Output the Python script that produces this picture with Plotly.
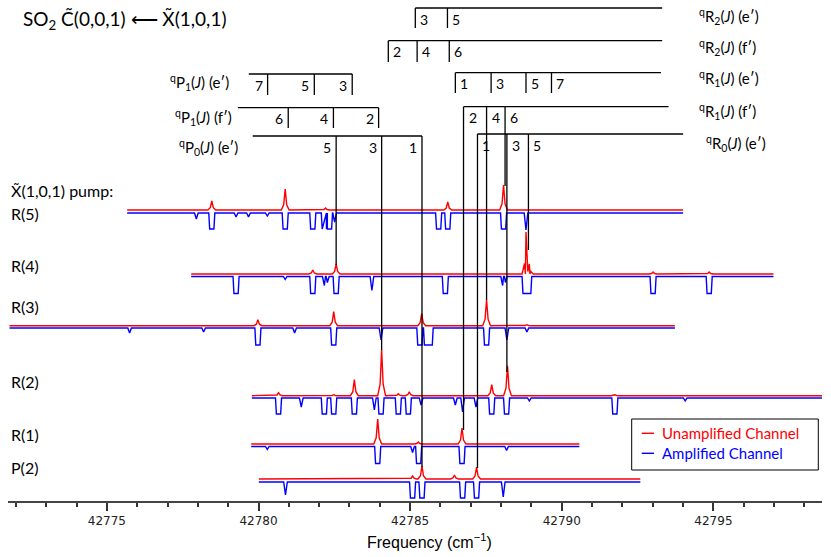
import plotly.graph_objects as go

# ---------------- spectra (centres in cm-1, sizes in px of the original) ----------------
# each pump spectrum: frequency span, red (unamplified) peaks, blue (amplified) dips
# dip kinds: V = narrow dip, F = saturated flat dip, W = wide flat dip

R5_SPAN = [42775.67, 42794.00]
R5_RED_X = [42778.46, 42780.88, 42782.21, 42786.24, 42788.08]
R5_RED_H = [9, 21, 2, 8, 25]
R5_BLUE_X = [42777.95, 42778.46, 42779.26, 42779.67, 42780.29, 42780.88, 42781.79,
             42782.17, 42782.34, 42782.51, 42785.94, 42786.24, 42788.08, 42788.82]
R5_BLUE_D = [6, 16, 4, 4, 3, 16, 16, 16, 16, 9, 16, 16, 16, 17]
R5_BLUE_KIND = "VFVVVFFFFVFFFV"

R4_SPAN = [42777.78, 42796.98]
R4_RED_X = [42781.79, 42782.56, 42788.82, 42788.93, 42793.01, 42794.86]
R4_RED_H = [4, 10, 42, 10, 2, 2]
R4_BLUE_X = [42779.26, 42780.88, 42781.79, 42782.17, 42782.27, 42782.56, 42783.74,
             42786.16, 42788.05, 42788.14, 42788.85, 42793.01, 42794.86]
R4_BLUE_D = [17, 3, 17, 9, 6, 17, 14, 17, 9, 6, 17, 17, 17]
R4_BLUE_KIND = "FVFVVFVFVVWFF"

R3_SPAN = [42771.79, 42793.73]
R3_RED_X = [42779.98, 42782.48, 42785.38, 42787.52, 42788.85]
R3_RED_H = [6, 14, 12, 26, 1]
R3_BLUE_X = [42775.75, 42778.19, 42779.98, 42781.19, 42782.48, 42784.04, 42785.32,
             42785.60, 42787.52, 42788.19, 42788.85]
R3_BLUE_D = [5, 4, 17, 5, 17, 12, 17, 17, 17, 12, 4]
R3_BLUE_KIND = "VVFVFVFWFVV"

R2_SPAN = [42779.78, 42798.58]
R2_RED_X = [42780.66, 42782.48, 42783.16, 42784.06, 42784.61, 42784.97, 42787.69,
            42788.21, 42791.75]
R2_RED_H = [3, 1, 16, 46, 2, 4, 11, 30, 1]
R2_BLUE_X = [42780.66, 42781.41, 42782.17, 42782.48, 42783.16, 42783.82, 42784.04,
             42784.61, 42784.94, 42785.36, 42786.49, 42786.73, 42787.17, 42787.69,
             42788.18, 42788.93, 42791.75, 42794.07]
R2_BLUE_D = [16, 9, 16, 16, 16, 12, 16, 16, 16, 7, 7, 14, 9, 16, 16, 3, 16, 3]
R2_BLUE_KIND = "FVFFFVFFFVVVVFFVFV"

R1_SPAN = [42779.76, 42790.58]
R1_RED_X = [42783.93, 42785.27, 42786.71]
R1_RED_H = [25, 2, 16]
R1_BLUE_X = [42780.29, 42783.93, 42785.08, 42785.28, 42786.71, 42788.18]
R1_BLUE_D = [3, 17, 6, 17, 17, 4]
R1_BLUE_KIND = "VFVFFV"

P2_SPAN = [42780.01, 42792.59]
P2_RED_X = [42785.08, 42785.39, 42786.46, 42787.19]
P2_RED_H = [3, 13, 4, 12]
P2_BLUE_X = [42780.89, 42785.08, 42785.39, 42786.73, 42787.19, 42788.07]
P2_BLUE_D = [13, 16, 16, 16, 16, 15]
P2_BLUE_KIND = "VFFFFV"

PUMP_LABELS = ["R(5)", "R(4)", "R(3)", "R(2)", "R(1)", "P(2)"]

# ---------------- assignment sticks ----------------
QR2E_X = [42785.17, 42786.23]
QR2E_J = [3, 5]
QR2F_X = [42784.28, 42785.23, 42786.29]
QR2F_J = [2, 4, 6]
QR1E_X = [42786.49, 42787.67, 42788.82, 42789.66]
QR1E_J = [1, 3, 5, 7]
QR1F_X = [42786.76, 42787.52, 42788.13]
QR1F_J = [2, 4, 6]
QR0E_X = [42787.22, 42788.19, 42788.90]
QR0E_J = [1, 3, 5]
QP1E_X = [42780.30, 42781.84, 42783.09]
QP1E_J = [7, 5, 3]
QP1F_X = [42780.98, 42782.47, 42783.96]
QP1F_J = [6, 4, 2]
QP0E_X = [42782.56, 42784.06, 42785.39]
QP0E_J = [5, 3, 1]

# ---------------- layout helpers ----------------
X0, X1 = 42771.74, 42798.58
L, R, B = 8, 9, 56
W = 831 - L - R
ROWS = 557 - B  # y axis runs in pixel rows, top = 0


def fx(px):
    return X0 + (px - L) / W * (X1 - X0)


def profile(span, xs, hs, kinds):
    pts = [(span[0], 0.0), (span[1], 0.0)]
    for c, h, k in zip(xs, hs, kinds):
        if k == "P":
            pts += [(c - 0.13, 0), (c - 0.05, 0.25 * h), (c, h), (c + 0.05, 0.25 * h), (c + 0.13, 0)]
        elif k == "V":
            pts += [(c - 0.06, 0), (c, h), (c + 0.06, 0)]
        elif k == "F":
            pts += [(c - 0.1, 0), (c - 0.07, h), (c + 0.07, h), (c + 0.1, 0)]
        else:
            pts += [(c - 0.16, 0), (c - 0.13, h), (c + 0.13, h), (c + 0.16, 0)]
    pts.sort()
    return [p[0] for p in pts], [p[1] for p in pts]


spectra = [
    (R5_SPAN, R5_RED_X, R5_RED_H, R5_BLUE_X, R5_BLUE_D, R5_BLUE_KIND, 210, 213),
    (R4_SPAN, R4_RED_X, R4_RED_H, R4_BLUE_X, R4_BLUE_D, R4_BLUE_KIND, 274, 276.5),
    (R3_SPAN, R3_RED_X, R3_RED_H, R3_BLUE_X, R3_BLUE_D, R3_BLUE_KIND, 325.7, 328),
    (R2_SPAN, R2_RED_X, R2_RED_H, R2_BLUE_X, R2_BLUE_D, R2_BLUE_KIND, 395.7, 398),
    (R1_SPAN, R1_RED_X, R1_RED_H, R1_BLUE_X, R1_BLUE_D, R1_BLUE_KIND, 444, 446.5),
    (P2_SPAN, P2_RED_X, P2_RED_H, P2_BLUE_X, P2_BLUE_D, P2_BLUE_KIND, 479, 482),
]
label_rows = [213, 265, 306, 381, 434, 467]

fig = go.Figure()
for (span, rx, rh, bx, bd, bk, red_row, blue_row), name in zip(spectra, PUMP_LABELS):
    x, y = profile(span, bx, bd, bk)
    fig.add_trace(go.Scatter(x=x, y=[blue_row + v for v in y], mode="lines",
                             line=dict(color="#0000ff", width=1.4),
                             name="Amplified Channel " + name, hoverinfo="skip"))
    x, y = profile(span, rx, rh, "P" * len(rx))
    fig.add_trace(go.Scatter(x=x, y=[red_row - v for v in y], mode="lines",
                             line=dict(color="#ff0000", width=1.4),
                             name="Unamplified Channel " + name, hoverinfo="skip"))

FONT = "Lato"
shapes = []
annots = []


def seg(xa, ya, xb, yb, color="black", width=1.3):
    shapes.append(dict(type="line", xref="x", yref="y", x0=xa, y0=ya, x1=xb, y1=yb,
                       line=dict(color=color, width=width)))


def text(px, row, s, size=14, color="black", anchor="left", xshift=0):
    annots.append(dict(x=fx(px), y=row, xref="x", yref="y", text=s, showarrow=False,
                       xanchor=anchor, yanchor="middle", xshift=xshift,
                       font=dict(family=FONT, size=size, color=color)))


# branch: xs, J, line row, line span (cm-1), tick ends (rows), side, label, label px, label row
branches = [
    (QR2E_X, QR2E_J, 8, (42785.17, 42793.31), [28, 28], "R",
     "<sup>q</sup>R<sub>2</sub>(<i>J</i>) (e′)", 697, 16),
    (QR2F_X, QR2F_J, 40.7, (42784.28, 42793.31), [62, 62, 62], "R",
     "<sup>q</sup>R<sub>2</sub>(<i>J</i>) (f′)", 697, 47),
    (QR1E_X, QR1E_J, 72.7, (42786.49, 42793.27), [93, 93, 93, 93], "R",
     "<sup>q</sup>R<sub>1</sub>(<i>J</i>) (e′)", 697, 78),
    (QR1F_X, QR1F_J, 106.7, (42786.76, 42793.52), [430, 300, 186], "R",
     "<sup>q</sup>R<sub>1</sub>(<i>J</i>) (f′)", 697, 111),
    (QR0E_X, QR0E_J, 134, (42787.22, 42794.00), [468, 372, 250], "R",
     "<sup>q</sup>R<sub>0</sub>(<i>J</i>) (e′)", 704, 143),
    (QP1E_X, QP1E_J, 74, (42779.68, 42783.09), [95, 95, 95], "P",
     "<sup>q</sup>P<sub>1</sub>(<i>J</i>) (e′)", 231, 82),
    (QP1F_X, QP1F_J, 107.7, (42779.32, 42783.96), [128, 128, 128], "P",
     "<sup>q</sup>P<sub>1</sub>(<i>J</i>) (f′)", 234, 117),
    (QP0E_X, QP0E_J, 136, (42779.81, 42785.39), [265, 350, 467], "P",
     "<sup>q</sup>P<sub>0</sub>(<i>J</i>) (e′)", 240, 147),
]

for xs, js, row, span, ends, side, label, lpx, lrow in branches:
    seg(span[0], row, span[1], row)
    for xv, j, end in zip(xs, js, ends):
        seg(xv, row, xv, end)
        if side == "R":
            annots.append(dict(x=xv, y=row + 11, xref="x", yref="y", text=str(j),
                               showarrow=False, xanchor="left", xshift=3,
                               font=dict(family=FONT, size=14, color="black")))
        else:
            annots.append(dict(x=xv, y=row + 11, xref="x", yref="y", text=str(j),
                               showarrow=False, xanchor="right", xshift=-3,
                               font=dict(family=FONT, size=14, color="black")))
    text(lpx, lrow, label, size=15, anchor="right" if side == "P" else "left")

# titles and pump labels
text(21, 20, "SO<sub>2</sub> C\u0303(0,0,1) \u27f5 X\u0303(1,0,1)", size=19)
text(9, 190, "X\u0303(1,0,1) pump:", size=16)
for name, row in zip(PUMP_LABELS, label_rows):
    text(9, row, name, size=16)

# legend box drawn by hand
shapes.append(dict(type="rect", xref="x", yref="y", x0=fx(631.7), x1=fx(818.3), y0=419, y1=470,
                   line=dict(color="black", width=1), fillcolor="white", layer="above"))
seg(fx(641.7), 433.3, fx(654), 433.3, color="#ff0000", width=1.4)
seg(fx(641.7), 453.3, fx(654), 453.3, color="#0000ff", width=1.4)
text(660, 433.3, "Unamplified Channel", size=15, color="#ff0000")
text(660, 453.3, "Amplified Channel", size=15, color="#0000ff")

# axis title (paper coords so it is not hidden below the y range)
annots.append(dict(x=(429 - L) / W, y=(ROWS - 541) / ROWS, xref="paper", yref="paper",
                   text="Frequency (cm<sup>\u22121</sup>)",
                   showarrow=False, xanchor="center", yanchor="middle",
                   font=dict(family="Liberation Sans", size=16, color="black")))

fig.update_layout(
    width=831, height=557,
    margin=dict(l=L, r=R, t=0, b=B),
    plot_bgcolor="white", paper_bgcolor="white",
    showlegend=False,
    shapes=shapes, annotations=annots,
    xaxis=dict(range=[X0, X1], tick0=42775, dtick=5, tickformat="d",
               ticks="outside", ticklen=8, tickwidth=1.5, tickcolor="#333",
               minor=dict(dtick=1, ticks="outside", ticklen=4, tickwidth=1.5, tickcolor="#333"),
               showline=True, linewidth=2, linecolor="#444",
               showgrid=False, zeroline=False,
               tickfont=dict(family="DejaVu Sans", size=12, color="#222")),
    yaxis=dict(range=[ROWS, 0], visible=False, showgrid=False, zeroline=False),
)

# the page has a default 8px body margin; remove it so the figure sits at the window corner
fig.write_html("out.html", config={"displayModeBar": False},
               post_script="document.body.style.margin='0';")
